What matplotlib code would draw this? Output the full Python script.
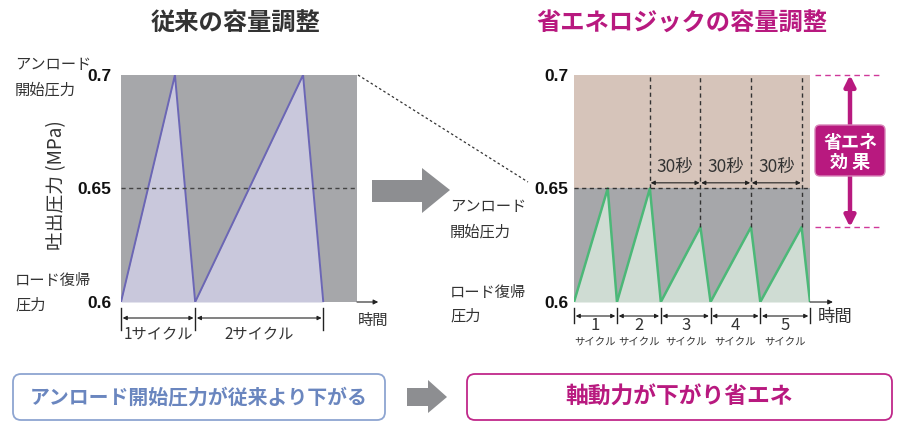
import matplotlib
matplotlib.use('Agg')
import matplotlib.pyplot as plt
import matplotlib.transforms as mtransforms
from matplotlib.patches import Polygon, FancyBboxPatch, FancyArrowPatch
from matplotlib.lines import Line2D

plt.rcParams['font.family'] = ['Noto Sans CJK JP', 'DejaVu Sans']

W, H = 901, 430

# conventional control: time (s) / discharge pressure (MPa)
conv_t = [0, 32, 44, 108, 120]
conv_p = [0.60, 0.70, 0.60, 0.70, 0.60]
conv_cycles = [0, 44, 120]
conv_cycle_labels = ['1サイクル', '2サイクル']

# energy-saving logic
eco_t = [0, 20, 25.5, 45, 51.5, 75, 81, 105, 110.5, 135, 140]
eco_p = [0.60, 0.65, 0.60, 0.65, 0.60, 0.633, 0.60, 0.633, 0.60, 0.633, 0.60]
eco_cycles = [0, 25.5, 51.5, 81, 110.5, 140]
eco_cycle_labels = ['1', '2', '3', '4', '5']
eco_marks = [45, 75, 105, 135]      # 30 s steps

yticks = [0.6, 0.65, 0.7]
ytick_labels = ['0.6', '0.65', '0.7']

GRAY = '#a6a7aa'
MAG = '#b8197f'
DARK = '#333333'

fig = plt.figure(figsize=(W / 100, H / 100), dpi=100)
# image pixel coords, origin top-left
px = mtransforms.Affine2D().scale(1 / W, -1 / H).translate(0, 1) + fig.transFigure


def ay(y):
    # image pixel y -> axes fraction (both panels share the same vertical span)
    return (302 - y) / 227


def setup(ax, pad):
    ax.set_xlim(0, 140)
    ax.set_ylim(0.6, 0.7)
    ax.set_facecolor(GRAY)
    for s in ax.spines.values():
        s.set_visible(False)
    ax.set_xticks([])
    ax.set_yticks(yticks)
    ax.set_yticklabels(ytick_labels, fontfamily='Liberation Sans',
                       fontweight='bold', fontsize=12.5, color='#111111')
    ax.tick_params(axis='y', length=0, pad=pad)


def cycle_marks(ax, cycles, tick_y, arrow_y):
    tr = ax.get_xaxis_transform()
    for c in cycles:
        ax.plot([c, c], [ay(tick_y[0]), ay(tick_y[1])], transform=tr,
                clip_on=False, color='#222222', lw=1)
    for c0, c1 in zip(cycles[:-1], cycles[1:]):
        ax.annotate('', xy=(c1 - 1, ay(arrow_y)), xytext=(c0 + 1, ay(arrow_y)),
                    xycoords=tr, textcoords=tr, annotation_clip=False,
                    arrowprops=dict(arrowstyle='<|-|>', color='#222222', lw=0.8,
                                    mutation_scale=6, shrinkA=0, shrinkB=0))


# ---- left panel: conventional ----
ax1 = fig.add_axes([121 / W, 1 - 302 / H, 236 / W, 227 / H])
setup(ax1, 7)
ax1.fill_between(conv_t, conv_p, 0.6, color='#c9c8dc', lw=0)
ax1.plot(conv_t, conv_p, color='#6b66b5', lw=1.4)
ax1.axhline(0.65, color='#444444', lw=1, ls=(0, (3, 2.5)))
cycle_marks(ax1, conv_cycles, (308, 330), 318)
tr1 = ax1.get_xaxis_transform()
for c0, c1, lab in zip(conv_cycles[:-1], conv_cycles[1:], conv_cycle_labels):
    ax1.text((c0 + c1) / 2, ay(335), lab, transform=tr1, ha='center', va='center',
             fontsize=11, color=DARK)
ax1.annotate('', xy=(1.09, 0), xytext=(1.0, 0), xycoords='axes fraction',
             arrowprops=dict(arrowstyle='-|>', color='#222222', lw=0.8,
                             mutation_scale=7, shrinkA=0, shrinkB=0))
ax1.text(1.004, ay(320), '時間', transform=ax1.transAxes, ha='left', va='center',
         fontsize=11, color=DARK)

# ---- right panel: energy-saving logic ----
ax2 = fig.add_axes([574 / W, 1 - 302 / H, 236 / W, 227 / H])
setup(ax2, 4)
ax2.axhspan(0.65, 0.7, color='#d6c4ba', lw=0)
ax2.fill_between(eco_t, eco_p, 0.6, color='#cfdcd3', lw=0)
ax2.plot(eco_t, eco_p, color='#4cb878', lw=1.8)
ax2.axhline(0.65, color='#333333', lw=1, ls=(0, (3, 2.5)))
peaks = [p for t, p in zip(eco_t, eco_p) if t in eco_marks]
ax2.vlines(eco_marks, peaks, 0.7, color='#333333', lw=1, linestyles=(0, (3, 2.5)))
for m0, m1 in zip(eco_marks[:-1], eco_marks[1:]):
    ax2.annotate('', xy=(m1 - 0.5, 0.6525), xytext=(m0 + 0.5, 0.6525),
                 arrowprops=dict(arrowstyle='<|-|>', color='#222222', lw=0.8,
                                 mutation_scale=6, shrinkA=0, shrinkB=0))
    ax2.text((m0 + m1) / 2, 0.6595, '30秒', ha='center', va='center',
             fontsize=12.5, color=DARK)
cycle_marks(ax2, eco_cycles, (308, 323), 316)
tr2 = ax2.get_xaxis_transform()
for c0, c1, lab in zip(eco_cycles[:-1], eco_cycles[1:], eco_cycle_labels):
    ax2.text((c0 + c1) / 2, ay(326), lab, transform=tr2, ha='center', va='center',
             fontsize=12, color=DARK)
    ax2.text((c0 + c1) / 2, ay(342), 'サイクル', transform=tr2, ha='center',
             va='center', fontsize=7.5, color=DARK)
ax2.annotate('', xy=(1.097, 0), xytext=(1.0, 0), xycoords='axes fraction',
             arrowprops=dict(arrowstyle='-|>', color='#222222', lw=0.8,
                             mutation_scale=7, shrinkA=0, shrinkB=0))
ax2.text(1.034, ay(317), '時間', transform=ax2.transAxes, ha='left', va='center',
         fontsize=12.5, color=DARK)

# energy saving effect marker (x in pixels, y in pressure)
bt = mtransforms.blended_transform_factory(
    mtransforms.Affine2D().scale(1 / W, 1) + fig.transFigure, ax2.transData)
top_p = max(conv_p)
low_p = max(eco_p[5:])
for yv in (top_p, low_p):
    fig.add_artist(Line2D([815, 882], [yv, yv], transform=bt, color='#d0389a',
                          lw=1, ls=(0, (4, 3))))
fig.add_artist(FancyArrowPatch((850, low_p), (850, top_p), transform=bt,
                               arrowstyle='<|-|>', color=MAG, lw=3.2,
                               mutation_scale=16, shrinkA=0, shrinkB=0))
fig.add_artist(FancyBboxPatch((815, 125), 70, 51, transform=px,
                              boxstyle='round,pad=0,rounding_size=5',
                              facecolor=MAG, edgecolor='#d883b8', lw=1))
fig.text(850, 142, '省エネ', transform=px, ha='center', va='center', fontsize=13,
         fontweight='bold', color='white')
fig.text(850, 162, '効 果', transform=px, ha='center', va='center', fontsize=13,
         fontweight='bold', color='white')

# ---- titles and side labels ----
fig.text(236, 24, '従来の容量調整', transform=px, ha='center', va='center',
         fontsize=17.5, fontweight='bold', color=DARK)
fig.text(682, 24, '省エネロジックの容量調整', transform=px, ha='center', va='center',
         fontsize=17.5, fontweight='bold', color=MAG)

for x, y, s in [(15, 65, 'アンロード'), (15, 90, '開始圧力'),
                (15, 280, 'ロード復帰'), (15, 305, '圧力'),
                (450, 207, 'アンロード'), (450, 232, '開始圧力'),
                (450, 292, 'ロード復帰'), (450, 316, '圧力')]:
    fig.text(x, y, s, transform=px, ha='left', va='center', fontsize=11, color=DARK)

fig.text(57, 185, '吐出圧力 (MPa)', transform=px, ha='center', va='center',
         rotation=90, fontsize=13.5, color=DARK)

# dotted link from old unload level to new one
fig.add_artist(Line2D([358, 528], [75, 182], transform=px, color='#333333',
                      lw=0.9, ls=(0, (2, 2))))

# big arrow between panels
fig.add_artist(Polygon([(372, 180), (422, 180), (422, 168), (450, 190),
                        (422, 213), (422, 202), (372, 202)],
                       closed=True, transform=px, facecolor='#8d8e91', lw=0))

# ---- bottom summary ----
fig.add_artist(FancyBboxPatch((13, 374), 372, 46, transform=px,
                              boxstyle='round,pad=0,rounding_size=8',
                              facecolor='white', edgecolor='#8ea5d1', lw=1.3))
fig.text(199, 397, 'アンロード開始圧力が従来より下がる', transform=px, ha='center',
         va='center', fontsize=14.3, fontweight='bold', color='#6a86bf')
fig.add_artist(Polygon([(407, 388), (428, 388), (428, 380), (447, 397),
                        (428, 413), (428, 406), (407, 406)],
                       closed=True, transform=px, facecolor='#8d8e91', lw=0))
fig.add_artist(FancyBboxPatch((467, 374), 425, 46, transform=px,
                              boxstyle='round,pad=0,rounding_size=8',
                              facecolor='white', edgecolor='#c0288a', lw=1.3))
fig.text(679, 397, '軸動力が下がり省エネ', transform=px, ha='center', va='center',
         fontsize=16.4, fontweight='bold', color=MAG)

fig.savefig('out.png', dpi=100)
